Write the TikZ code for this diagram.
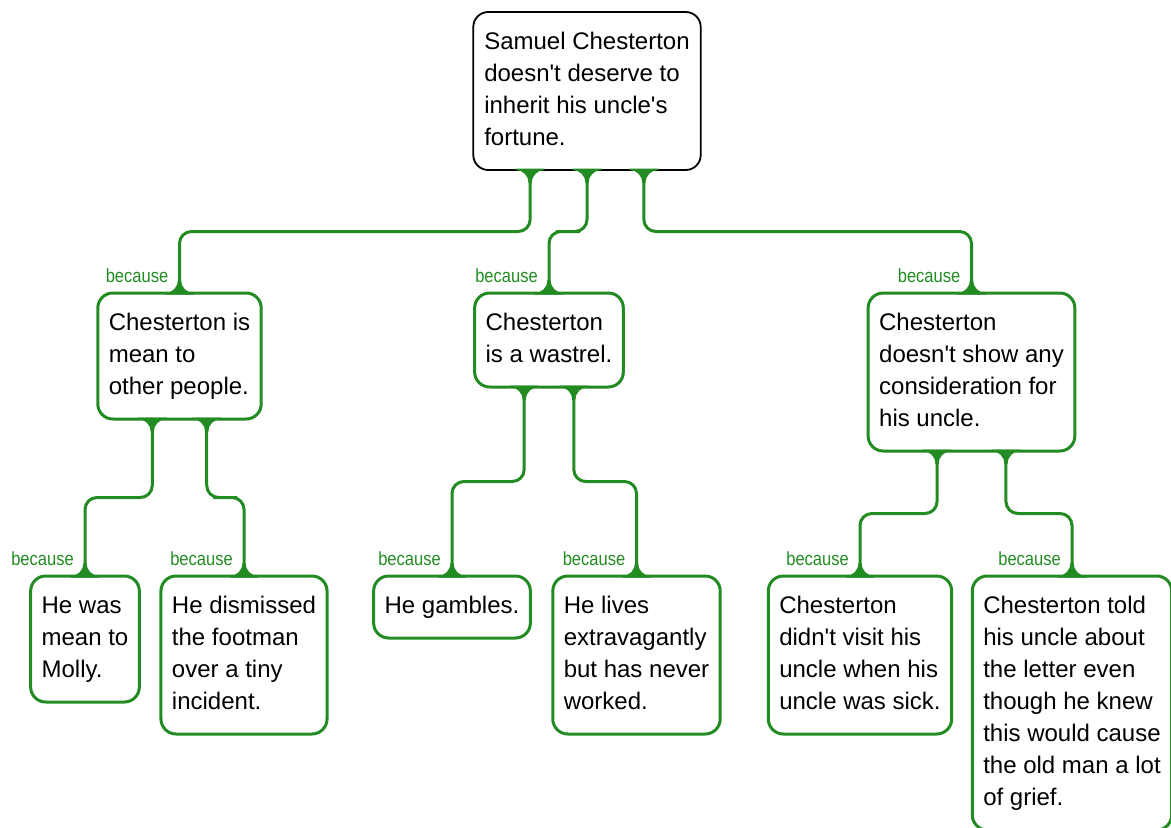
\documentclass[tikz,border=0pt]{standalone}
\usepackage{fontspec}
\setmainfont{Liberation Sans}
\newfontfamily\becausefont[FakeStretch=0.87]{Liberation Sans}
\usetikzlibrary{calc}
\definecolor{argugreen}{RGB}{34,139,34}
\tikzset{
  claim/.style={draw=argugreen, line width=3pt, rounded corners=15pt, fill=white,
    align=left, inner xsep=11pt, inner ysep=15pt, outer sep=0pt, anchor=north,
    font=\fontsize{24}{32}\selectfont, execute at end node=\strut},
  topclaim/.style={claim, draw=black, line width=1.8pt},
  link/.style={draw=argugreen, line width=3pt, rounded corners=12pt},
  because/.style={anchor=base east, text=argugreen, inner sep=0pt,
    font=\becausefont\fontsize{19}{19}\selectfont},
  flaredown/.pic={\fill[argugreen] (-14.5,-1.5) -- (-14.5,0) .. controls (-7.3,0) and (-1.5,5.8) .. (-1.5,13)
    -- (1.5,13) .. controls (1.5,5.8) and (7.3,0) .. (14.5,0) -- (14.5,-1.5) -- cycle;},
  flareup/.pic={\fill[argugreen] (-14.5,1.5) -- (-14.5,0) .. controls (-7.3,0) and (-1.5,-5.8) .. (-1.5,-13)
    -- (1.5,-13) .. controls (1.5,-5.8) and (7.3,0) .. (14.5,0) -- (14.5,1.5) -- cycle;}
}
\begin{document}
\begin{tikzpicture}[x=1pt,y=-1pt]
\useasboundingbox (0,0) rectangle (1171,828);
% main claim
\node[topclaim] (root) at (587,12) {\strut Samuel Chesterton\\doesn\textquotesingle t deserve to\\inherit his uncle\textquotesingle s\\fortune.};
% reasons
\node[claim] (mean) at (179.5,293) {\strut Chesterton is\\mean to\\other people.};
\node[claim] (wastrel) at (549,293) {\strut Chesterton\\is a wastrel.};
\node[claim] (uncle) at (971.5,293) {\strut Chesterton\\doesn\textquotesingle t show any\\consideration for\\his uncle.};
% evidence
\node[claim] (molly) at (85,576) {\strut He was\\mean to\\Molly.};
\node[claim] (footman) at (244,576) {\strut He dismissed\\the footman\\over a tiny\\incident.};
\node[claim] (gambles) at (452,576) {\strut He gambles.};
\node[claim] (lives) at (636.5,576) {\strut He lives\\extravagantly\\but has never\\worked.};
\node[claim] (visit) at (860,576) {\strut Chesterton\\didn\textquotesingle t visit his\\uncle when his\\uncle was sick.};
\node[claim] (letter) at (1072,576) {\strut Chesterton told\\his uncle about\\the letter even\\though he knew\\this would cause\\the old man a lot\\of grief.};
% links: parent/child/where the link leaves the parent
\foreach \from/\to/\pos in {root/mean/.25,root/wastrel/.5,root/uncle/.75,
    mean/molly/.3333,mean/footman/.6667,wastrel/gambles/.3333,wastrel/lives/.6667,
    uncle/visit/.3333,uncle/letter/.6667}{
  \coordinate (tap) at ($(\from.south west)!\pos!(\from.south east)$);
  \draw[link] (tap) |- ($(tap)!.5!(\to.north)$) -| (\to.north);
  \pic at (tap) {flaredown};
  \pic at (\to.north) {flareup};
  \node[because] (lbl-\to) at ([xshift=-11pt,yshift=11pt]\to.north) {because};
}
\end{tikzpicture}
\end{document}
